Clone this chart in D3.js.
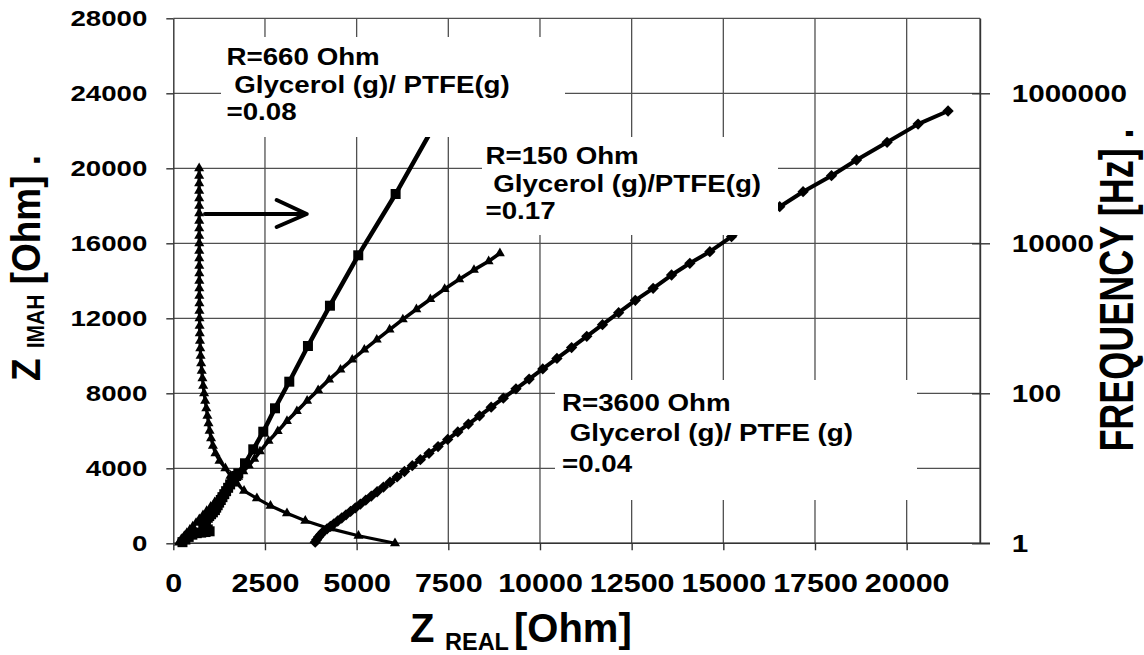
<!DOCTYPE html>
<html>
<head>
<meta charset="utf-8">
<script src="https://cdn.jsdelivr.net/npm/d3@7"></script>
<style>
  html, body { margin: 0; padding: 0; background: #fff; }
  svg { display: block; font-family: "Liberation Sans", Arial, sans-serif; font-weight: bold; }
</style>
</head>
<body>
<svg id="chart" width="1144" height="655"></svg>
<script>
// ---------- DATA ----------
const xTicks = [0, 2500, 5000, 7500, 10000, 12500, 15000, 17500, 20000];
const yTicks = [0, 4000, 8000, 12000, 16000, 20000, 24000, 28000];
const freqTicks = [1, 100, 10000, 1000000];

// R=660 Ohm, squares  [Z real, Z imag]
const r660 = [[250,60],[330,200],[420,340],[520,460],[640,540],[760,570],[880,600],[990,640],[940,740],
  [880,850],[830,960],[820,1060],[850,1160],[890,1260],[940,1360],[980,1450],[1030,1550],[1080,1650],[1135,1770],
  [1170,1900],[1210,2030],[1250,2170],[1295,2310],[1340,2460],[1390,2620],[1440,2780],[1495,2960],[1550,3140],
  [1605,3300],[1660,3450],[1715,3590],[1772,3733],[1955,4267],[2181,5013],[2454,5952],[2773,7200],[3163,8619],
  [3672,10523],[4272,12672],[5044,15360],[6063,18629],[7150,22400]];

// R=150 Ohm, triangles  [Z real, Z imag]
const r150 = [[150,30],[190,130],[240,250],[300,390],[370,550],[450,720],[530,900],[620,1090],[710,1290],
  [810,1500],[910,1720],[1020,1950],[1130,2190],[1250,2440],[1370,2700],[1500,2970],[1630,3250],[1770,3540],
  [1910,3840],[2060,4150],[2210,4500],[2364,4900],[2600,5460],[2850,5980],[3100,6520],[3370,7050],[3650,7600],
  [3950,8170],[4250,8730],[4560,9260],[4880,9790],[5210,10330],[5550,10860],[5900,11400],[6260,11940],
  [6630,12480],[7010,13020],[7400,13560],[7800,14080],[8200,14580],[8600,15040],[8907,15467]];

// R=3600 Ohm, diamonds  [Z real, Z imag]
const r3600 = [[3870,60],[3910,190],[3960,330],[4020,470],[4089,619],[4193,770],[4283,900],[4379,1040],
  [4483,1190],[4593,1350],[4710,1520],[4834,1700],[4966,1890],[5103,2090],[5248,2300],[5400,2520],[5559,2750],
  [5731,3000],[5910,3260],[6103,3540],[6304,3830],[6517,4140],[6738,4460],[6973,4800],[7221,5160],[7483,5540],
  [7759,5940],[8048,6360],[8352,6800],[8669,7260],[9000,7740],[9345,8240],[9704,8760],[10076,9300],
  [10462,9860],[10862,10440],[11276,11040],[11704,11660],[12145,12300],[12600,12960],[13086,13600],
  [13588,14309],[14087,14933],[14632,15552],[15224,16352],[15870,17150],[16538,17952],[17175,18752],
  [17950,19605],[18632,20443],[19466,21387],[20311,22357],[21129,23056]];

// Frequency vs Z real (right axis), triangles  [Z real, frequency Hz]
const freqCurve = [[6046,1],[5050,1.26],[4250,1.58],[3600,2],[3100,2.51],[2650,3.16],[2280,3.98],[1930,5.01],
  [1730,6.31],[1560,7.94],[1420,10],[1260,12.6],[1150,15.8],[1080,20],[1030,25.1],[990,31.6],[960,39.8],
  [930,50.1],[900,63.1],[870,79.4],[840,100],[815,126],[795,158],[775,200],[760,251],[745,316],[735,398],
  [728,501],[722,631],[718,794],[715,1000],[713,1260],[712,1580],[711,2000],[710,2510],[710,3160],[709,3980],
  [709,5010],[708,6310],[708,7940],[708,10000],[707,12600],[707,15800],[707,20000],[706,25100],[706,31600],
  [706,39800],[705,50100],[705,63100],[705,79400],[705,100000]];

const annotations = [
  ["R=660 Ohm", " Glycerol (g)/ PTFE(g)", "=0.08"],
  ["R=150 Ohm", " Glycerol (g)/PTFE(g)", "=0.17"],
  ["R=3600 Ohm", " Glycerol (g)/ PTFE (g)", "=0.04"]
];

// ---------- LAYOUT ----------
const L = 173.3, R = 980, T = 18.3, B = 543.3;
const svg = d3.select("#chart");
const x = d3.scaleLinear().domain([0, 22000]).range([L, R]);
const y = d3.scaleLinear().domain([0, 28000]).range([B, T]);
const yF = d3.scaleLog().domain([1, 1e7]).range([B, T]);

const gridColor = "#505050";
const grid = svg.append("g");
grid.selectAll("line.h").data(yTicks).join("line")
  .attr("x1", L).attr("x2", R).attr("y1", d => y(d)).attr("y2", d => y(d))
  .attr("stroke", gridColor).attr("stroke-width", 1.3);
grid.selectAll("line.v").data(xTicks.slice(1).concat([22000])).join("line")
  .attr("x1", d => x(d)).attr("x2", d => x(d)).attr("y1", T).attr("y2", B)
  .attr("stroke", gridColor).attr("stroke-width", 1.3);

// axes
const fmt = d3.format("d");
const gx = svg.append("g").attr("transform", `translate(0,${B})`)
  .call(d3.axisBottom(x).tickValues(xTicks).tickSize(7).tickSizeOuter(0).tickPadding(23).tickFormat(fmt));
gx.selectAll("text").attr("font-size", 26.5).attr("font-weight", "bold").attr("fill", "#000")
  .attr("font-family", "Liberation Sans, Arial").attr("transform", "scale(1.15,1)");
gx.select(".domain").attr("d", `M${L},0H${R + 10}`);

const gy = svg.append("g").attr("transform", `translate(${L},0)`)
  .call(d3.axisLeft(y).tickValues(yTicks).tickSize(7).tickSizeOuter(0).tickPadding(14).tickFormat(fmt));
gy.selectAll("text").attr("font-size", 22.3).attr("font-weight", "bold").attr("fill", "#000")
  .attr("font-family", "Liberation Sans, Arial").attr("transform", "scale(1.24,1)");

const gyr = svg.append("g").attr("transform", `translate(${R},0)`)
  .call(d3.axisRight(yF).tickValues(freqTicks).tickSize(10).tickSizeOuter(0).tickPadding(16.4).tickFormat(fmt));
gyr.selectAll(".tick line").attr("x1", -8);
gyr.selectAll("text").attr("font-size", 24.7).attr("font-weight", "bold").attr("fill", "#000")
  .attr("font-family", "Liberation Sans, Arial").attr("transform", "scale(1.2,1)");

[gx, gy, gyr].forEach(g => {
  g.selectAll("line, path").attr("stroke", "#333").attr("stroke-width", 1.4);
});

// ---------- SERIES ----------
const lineXY = d3.line().x(d => x(d[0])).y(d => y(d[1]));
const lineXF = d3.line().x(d => x(d[0])).y(d => yF(d[1]));

function drawSeries(data, gen, yFn, width, symType, size, rot) {
  const g = svg.append("g");
  g.append("path").datum(data).attr("d", gen).attr("fill", "none")
    .attr("stroke", "#000").attr("stroke-width", width).attr("stroke-linejoin", "round");
  const sym = d3.symbol().type(symType).size(size);
  g.selectAll("path.m").data(data).join("path").attr("class", "m")
    .attr("d", sym).attr("fill", "#000")
    .attr("transform", d => `translate(${x(d[0])},${yFn(d[1])}) rotate(${rot})`);
}
drawSeries(freqCurve, lineXF, yF, 3.2, d3.symbolTriangle, 44, 0);
drawSeries(r150, lineXY, y, 3.6, d3.symbolTriangle, 42, 0);
drawSeries(r3600, lineXY, y, 4, d3.symbolSquare, 64, 45);
drawSeries(r660, lineXY, y, 4.5, d3.symbolSquare, 100, 0);

// ---------- ANNOTATION BOXES ----------
const boxes = [
  {x0: 221, x1: 565, y0: 37, y1: 137, tx: 226.5, ty: [65, 92.7, 120]},
  {x0: 482, x1: 778, y0: 137, y1: 235, tx: 485.5, ty: [164, 191.7, 219.3]},
  {x0: 555, x1: 917, y0: 380, y1: 500, tx: 562, ty: [411, 441, 472]}
];
boxes.forEach((b, i) => {
  svg.append("rect").attr("x", b.x0).attr("y", b.y0).attr("width", b.x1 - b.x0).attr("height", b.y1 - b.y0)
    .attr("fill", "#fff");
  const t = svg.append("text").attr("transform", `translate(${b.tx},0) scale(1.19,1)`)
    .attr("font-size", 23.3).attr("fill", "#000").style("white-space", "pre");
  annotations[i].forEach((s, k) => {
    t.append("tspan").attr("x", 0).attr("y", b.ty[k]).text(s);
  });
});

// arrow
svg.append("path").attr("d", "M205,214H306.7M276.7,200L306.7,214L276.7,227")
  .attr("fill", "none").attr("stroke", "#000").attr("stroke-width", 4)
  .attr("stroke-linecap", "round").attr("stroke-linejoin", "round");

// ---------- TITLES ----------
const xt = svg.append("text").attr("fill", "#000").style("white-space", "pre");
xt.append("tspan").attr("x", 410).attr("y", 642).attr("font-size", 40).text("Z");
xt.append("tspan").attr("x", 445).attr("y", 650).attr("font-size", 23.5).text("REAL");
xt.append("tspan").attr("x", 514).attr("y", 642).attr("font-size", 40).text("[Ohm]");

const yt = svg.append("text").attr("fill", "#000").style("white-space", "pre")
  .attr("transform", "translate(40,268) scale(1.12,1) rotate(-90)").attr("text-anchor", "middle");
yt.append("tspan").attr("font-size", 37).text("Z ");
yt.append("tspan").attr("font-size", 21).attr("dy", 4).text("IMAH");
yt.append("tspan").attr("font-size", 37).attr("dy", -4).text(" [Ohm] .");

svg.append("text").attr("fill", "#000").style("white-space", "pre")
  .attr("transform", "translate(1133,290) scale(1.32,1) rotate(-90)").attr("text-anchor", "middle")
  .attr("font-size", 36).text("FREQUENCY [Hz] .");
</script>
</body>
</html>
